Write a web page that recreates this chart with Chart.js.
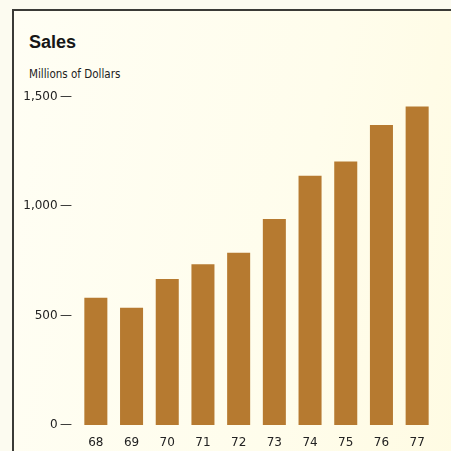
<!DOCTYPE html>
<html>
<head>
<meta charset="utf-8">
<script src="https://cdn.jsdelivr.net/npm/chart.js@4"></script>
<style>
  html, body { margin: 0; padding: 0; }
  body { width: 451px; height: 451px; background: #fcfbf0; position: relative; overflow: hidden; }
  #frame {
    position: absolute; left: 12px; top: 9px; width: 460px; height: 460px;
    border-top: 2px solid #3a3a36; border-left: 2px solid #3a3a36;
    background: linear-gradient(100deg, #fffef4 0%, #fffdec 60%, #fffbe2 100%);
  }
  #title {
    position: absolute; left: 29px; top: 32px; margin: 0;
    font: bold 18px "Liberation Sans", Arial, sans-serif; color: #161616;
  }
  #unit {
    position: absolute; left: 29px; top: 67px; margin: 0;
    font-family: "DejaVu Sans", sans-serif; font-size: 11.5px; font-stretch: condensed; color: #222;
  }
  canvas { position: absolute; left: 0; top: 0; }
</style>
</head>
<body>
<div id="frame"></div>
<div id="title">Sales</div>
<div id="unit">Millions of Dollars</div>
<canvas id="myChart" width="451" height="451"></canvas>
<script>
  const years = ['68', '69', '70', '71', '72', '73', '74', '75', '76', '77'];
  const sales = [582, 536, 668, 735, 788, 942, 1140, 1205, 1372, 1456];
  const yTicks = [0, 500, 1000, 1500];

  const labelFont = { family: '"DejaVu Sans", sans-serif', style: 'condensed', size: 12 };

  let ctx = document.getElementById('myChart').getContext('2d');
  new Chart(ctx, {
    type: 'bar',
    data: {
      labels: years,
      datasets: [{
        label: 'Sales',
        data: sales,
        backgroundColor: '#b67a30',
        borderWidth: 0,
        barPercentage: 0.645,
        categoryPercentage: 1
      }]
    },
    options: {
      responsive: false,
      animation: false,
      layout: { padding: { top: 97, right: 16, left: 0, bottom: 0 } },
      plugins: { legend: { display: false }, tooltip: { enabled: false } },
      scales: {
        x: {
          offset: true,
          grid: { display: false, drawTicks: false },
          border: { display: false },
          ticks: { color: '#222', font: labelFont, padding: 11, maxRotation: 0 },
          afterFit: function (scale) { scale.height = 26; }
        },
        y: {
          min: 0,
          max: 1500,
          grid: { display: false, drawTicks: false },
          border: { display: false },
          afterBuildTicks: function (scale) {
            scale.ticks = yTicks.map(v => ({ value: v }));
          },
          ticks: {
            color: '#222',
            font: labelFont,
            padding: 6,
            callback: function (value) { return value.toLocaleString('en-US') + '\u2009—'; }
          },
          afterFit: function (scale) { scale.width = 78; }
        }
      }
    }
  });
</script>
</body>
</html>
